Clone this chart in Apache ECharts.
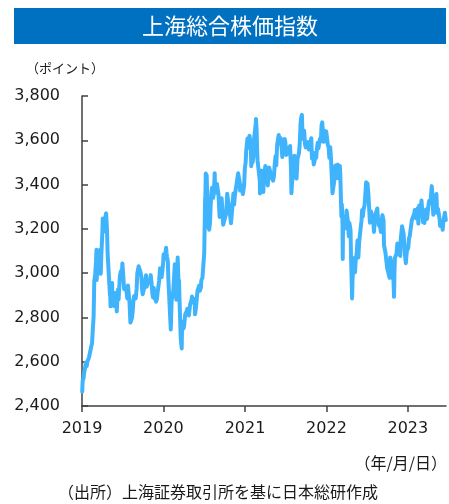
<!DOCTYPE html>
<html>
<head>
<meta charset="utf-8">
<script src="https://cdn.jsdelivr.net/npm/echarts@6/dist/echarts.min.js"></script>
<style>
  html, body { margin: 0; padding: 0; background: #fff; }
  #chart { width: 449px; height: 504px; }
</style>
</head>
<body>
<div id="chart"></div>
<script>
// Shanghai Composite Index, closing levels (points)
const dates2019 = ['2019-01-02','2019-01-04','2019-01-08','2019-01-11','2019-01-15','2019-01-18','2019-01-22','2019-01-25','2019-01-29','2019-02-01','2019-02-12','2019-02-15','2019-02-19','2019-02-22','2019-02-25','2019-02-27','2019-03-01','2019-03-05','2019-03-07','2019-03-08','2019-03-12','2019-03-15','2019-03-19','2019-03-22','2019-03-26','2019-03-29','2019-04-02','2019-04-04','2019-04-08','2019-04-10','2019-04-12','2019-04-16','2019-04-19','2019-04-23','2019-04-25','2019-04-26','2019-04-30','2019-05-06','2019-05-08','2019-05-09','2019-05-10','2019-05-14','2019-05-16','2019-05-17','2019-05-21','2019-05-24','2019-05-28','2019-05-31','2019-06-04','2019-06-06','2019-06-11','2019-06-14','2019-06-18','2019-06-20','2019-06-24','2019-06-28','2019-07-01','2019-07-04','2019-07-09','2019-07-12','2019-07-16','2019-07-19','2019-07-23','2019-07-26','2019-07-30','2019-08-02','2019-08-06','2019-08-09','2019-08-13','2019-08-16','2019-08-20','2019-08-23','2019-08-27','2019-08-30','2019-09-03','2019-09-06','2019-09-10','2019-09-12','2019-09-16','2019-09-20','2019-09-24','2019-09-27','2019-09-30','2019-10-10','2019-10-15','2019-10-18','2019-10-22','2019-10-25','2019-10-29','2019-11-01','2019-11-05','2019-11-08','2019-11-12','2019-11-15','2019-11-19','2019-11-22','2019-11-26','2019-11-29','2019-12-03','2019-12-06','2019-12-10','2019-12-13','2019-12-17','2019-12-20','2019-12-24','2019-12-27','2019-12-31'];
const values2019 = [2465,2514,2526,2554,2570,2596,2580,2601,2594,2618,2671,2682,2755,2804,2961,2953,2994,3054,3106,2969,3060,3021,3090,3104,2997,3090,3176,3247,3244,3241,3189,3253,3270,3198,3124,3086,3078,2906,2893,2850,2939,2883,2955,2882,2905,2852,2910,2898,2862,2827,2925,2881,2890,2988,3008,2979,3044,3005,2928,2930,2937,2924,2886,2944,2953,2868,2777,2774,2797,2823,2880,2897,2902,2886,2930,2999,3021,3031,3030,3006,2985,2932,2905,2947,2991,2938,2954,2954,2954,2958,2991,2964,2914,2891,2933,2885,2907,2871,2884,2912,2917,2967,3022,3005,2982,3005,3050];

const dates2020 = ['2020-01-02','2020-01-06','2020-01-08','2020-01-10','2020-01-13','2020-01-15','2020-01-17','2020-01-21','2020-01-23','2020-02-03','2020-02-05','2020-02-07','2020-02-11','2020-02-14','2020-02-18','2020-02-21','2020-02-24','2020-02-28','2020-03-03','2020-03-05','2020-03-09','2020-03-11','2020-03-13','2020-03-16','2020-03-19','2020-03-23','2020-03-25','2020-03-27','2020-03-31','2020-04-03','2020-04-08','2020-04-14','2020-04-17','2020-04-21','2020-04-24','2020-04-30','2020-05-06','2020-05-08','2020-05-13','2020-05-15','2020-05-20','2020-05-22','2020-05-26','2020-05-29','2020-06-02','2020-06-05','2020-06-09','2020-06-12','2020-06-17','2020-06-19','2020-06-24','2020-06-30','2020-07-02','2020-07-03','2020-07-06','2020-07-07','2020-07-09','2020-07-10','2020-07-13','2020-07-15','2020-07-16','2020-07-20','2020-07-22','2020-07-24','2020-07-28','2020-07-31','2020-08-04','2020-08-06','2020-08-11','2020-08-14','2020-08-18','2020-08-20','2020-08-24','2020-08-28','2020-09-01','2020-09-04','2020-09-09','2020-09-11','2020-09-15','2020-09-18','2020-09-22','2020-09-25','2020-09-28','2020-09-30','2020-10-09','2020-10-13','2020-10-16','2020-10-20','2020-10-23','2020-10-27','2020-10-30','2020-11-03','2020-11-06','2020-11-10','2020-11-13','2020-11-16','2020-11-20','2020-11-24','2020-11-27','2020-12-01','2020-12-04','2020-12-08','2020-12-10','2020-12-14','2020-12-18','2020-12-22','2020-12-24','2020-12-28','2020-12-31'];
const values2020 = [3085,3083,3066,3092,3115,3090,3075,3052,2977,2746,2818,2876,2901,2917,2984,3040,3031,2880,2993,3071,2943,2968,2887,2790,2702,2660,2781,2772,2750,2764,2815,2827,2839,2827,2809,2860,2878,2895,2898,2868,2883,2814,2846,2852,2921,2930,2943,2920,2935,2967,2979,2984,3090,3152,3332,3345,3450,3383,3443,3361,3210,3314,3333,3196,3228,3310,3371,3386,3340,3360,3451,3363,3386,3403,3410,3355,3254,3260,3295,3338,3275,3219,3217,3218,3272,3359,3336,3328,3278,3254,3225,3272,3312,3360,3310,3346,3377,3402,3408,3451,3444,3411,3373,3369,3395,3357,3364,3397,3473];

const dates2021 = ['2021-01-04','2021-01-06','2021-01-08','2021-01-12','2021-01-13','2021-01-15','2021-01-19','2021-01-21','2021-01-25','2021-01-27','2021-01-29','2021-02-02','2021-02-04','2021-02-08','2021-02-10','2021-02-18','2021-02-19','2021-02-22','2021-02-24','2021-02-26','2021-03-02','2021-03-04','2021-03-08','2021-03-09','2021-03-11','2021-03-15','2021-03-18','2021-03-22','2021-03-24','2021-03-26','2021-03-30','2021-04-02','2021-04-07','2021-04-09','2021-04-13','2021-04-15','2021-04-19','2021-04-22','2021-04-26','2021-04-30','2021-05-07','2021-05-11','2021-05-14','2021-05-18','2021-05-21','2021-05-25','2021-05-28','2021-06-01','2021-06-03','2021-06-07','2021-06-10','2021-06-15','2021-06-17','2021-06-21','2021-06-24','2021-06-28','2021-07-01','2021-07-05','2021-07-08','2021-07-12','2021-07-15','2021-07-19','2021-07-22','2021-07-26','2021-07-28','2021-07-30','2021-08-03','2021-08-06','2021-08-10','2021-08-13','2021-08-17','2021-08-20','2021-08-24','2021-08-27','2021-08-31','2021-09-03','2021-09-07','2021-09-10','2021-09-13','2021-09-16','2021-09-17','2021-09-23','2021-09-27','2021-09-30','2021-10-11','2021-10-14','2021-10-18','2021-10-20','2021-10-25','2021-10-28','2021-11-01','2021-11-05','2021-11-09','2021-11-12','2021-11-16','2021-11-19','2021-11-23','2021-11-26','2021-11-30','2021-12-03','2021-12-07','2021-12-10','2021-12-13','2021-12-16','2021-12-20','2021-12-23','2021-12-27','2021-12-31'];
const values2021 = [3503,3550,3570,3608,3598,3566,3584,3621,3624,3573,3483,3533,3501,3532,3603,3675,3696,3642,3564,3509,3509,3503,3421,3360,3436,3419,3463,3443,3367,3418,3457,3484,3479,3451,3396,3399,3477,3465,3441,3447,3418,3441,3490,3529,3487,3581,3600,3624,3584,3599,3610,3556,3525,3530,3566,3606,3588,3534,3525,3547,3565,3539,3574,3467,3361,3397,3447,3458,3530,3517,3446,3427,3514,3522,3544,3581,3676,3703,3715,3607,3613,3643,3582,3568,3592,3558,3568,3587,3609,3518,3545,3491,3507,3539,3521,3560,3589,3564,3564,3607,3595,3666,3681,3675,3593,3643,3615,3640];

const dates2022 = ['2022-01-04','2022-01-07','2022-01-11','2022-01-14','2022-01-18','2022-01-21','2022-01-25','2022-01-28','2022-02-07','2022-02-10','2022-02-14','2022-02-17','2022-02-21','2022-02-24','2022-02-28','2022-03-02','2022-03-04','2022-03-08','2022-03-09','2022-03-11','2022-03-14','2022-03-15','2022-03-16','2022-03-17','2022-03-21','2022-03-24','2022-03-29','2022-04-01','2022-04-07','2022-04-11','2022-04-14','2022-04-19','2022-04-21','2022-04-25','2022-04-26','2022-04-28','2022-05-05','2022-05-09','2022-05-12','2022-05-17','2022-05-20','2022-05-24','2022-05-27','2022-06-01','2022-06-07','2022-06-10','2022-06-13','2022-06-16','2022-06-21','2022-06-24','2022-06-28','2022-07-01','2022-07-04','2022-07-08','2022-07-12','2022-07-15','2022-07-19','2022-07-22','2022-07-26','2022-07-29','2022-08-02','2022-08-05','2022-08-09','2022-08-12','2022-08-17','2022-08-19','2022-08-24','2022-08-26','2022-08-30','2022-09-02','2022-09-07','2022-09-09','2022-09-14','2022-09-16','2022-09-20','2022-09-23','2022-09-27','2022-09-30','2022-10-11','2022-10-14','2022-10-18','2022-10-21','2022-10-24','2022-10-27','2022-10-31','2022-11-02','2022-11-04','2022-11-08','2022-11-11','2022-11-15','2022-11-18','2022-11-22','2022-11-25','2022-11-28','2022-11-30','2022-12-02','2022-12-06','2022-12-09','2022-12-13','2022-12-16','2022-12-20','2022-12-23','2022-12-27','2022-12-30'];
const values2022 = [3632,3580,3567,3521,3569,3523,3433,3361,3430,3486,3429,3468,3490,3429,3462,3484,3447,3293,3256,3310,3223,3064,3171,3215,3254,3250,3203,3283,3236,3167,3226,3195,3080,2928,2886,2975,3068,3004,3054,3094,3147,3071,3131,3182,3236,3285,3256,3285,3307,3350,3410,3388,3405,3356,3282,3228,3280,3270,3277,3253,3186,3227,3248,3277,3292,3258,3215,3236,3227,3186,3246,3262,3237,3126,3122,3089,3094,3024,2979,3071,3080,3038,2977,3017,2893,3003,3070,3064,3087,3134,3097,3088,3101,3078,3151,3156,3212,3206,3176,3167,3073,3045,3096,3089];

const dates2023 = ['2023-01-03','2023-01-06','2023-01-10','2023-01-13','2023-01-17','2023-01-19','2023-01-30','2023-02-01','2023-02-03','2023-02-07','2023-02-10','2023-02-14','2023-02-17','2023-02-21','2023-02-24','2023-02-28','2023-03-03','2023-03-06','2023-03-10','2023-03-14','2023-03-16','2023-03-20','2023-03-23','2023-03-28','2023-03-31','2023-04-04','2023-04-07','2023-04-11','2023-04-14','2023-04-18','2023-04-20','2023-04-25','2023-04-28','2023-05-05','2023-05-09','2023-05-12','2023-05-16','2023-05-19','2023-05-23','2023-05-26','2023-05-31','2023-06-02','2023-06-06','2023-06-09','2023-06-13','2023-06-16','2023-06-20','2023-06-21'];
const values2023 = [3116,3157,3169,3195,3225,3240,3269,3285,3263,3248,3260,3293,3224,3306,3267,3280,3328,3322,3230,3245,3226,3234,3287,3245,3273,3312,3327,3315,3338,3393,3367,3264,3323,3334,3357,3272,3290,3284,3246,3213,3205,3231,3196,3231,3234,3273,3240,3241];

// Axis ticks
const yearTicks = ['2019-01-01','2020-01-01','2021-01-01','2022-01-01','2023-01-01'];
const yMin = 2400, yMax = 3800, yStep = 200;
const xStart = '2019-01-01', xEnd = '2023-06-21';

const toTime = s => { const p = s.split('-').map(Number); return Date.UTC(p[0], p[1] - 1, p[2]); };

const allDates = [].concat(dates2019, dates2020, dates2021, dates2022, dates2023);
const allValues = [].concat(values2019, values2020, values2021, values2022, values2023);
const seriesData = allDates.map((d, i) => [toTime(d), allValues[i]]);
const tickTimes = yearTicks.map(toTime);

const axisColor = '#404040';
const textColor = '#1a1a1a';
const jpFont = '"Noto Sans CJK JP", "Noto Sans", sans-serif';
const numFont = '"DejaVu Sans", Verdana, sans-serif';

const chart = echarts.init(document.getElementById('chart'), null, { renderer: 'canvas' });
chart.setOption({
  animation: false,
  backgroundColor: '#ffffff',
  grid: { left: 82, right: 3, top: 96, bottom: 98, containLabel: false, outerBoundsMode: 'none' },
  xAxis: {
    type: 'value',
    min: toTime(xStart),
    max: toTime(xEnd),
    axisLine: { show: true, lineStyle: { color: axisColor, width: 1.5 } },
    axisTick: { show: true, inside: false, length: 6, lineStyle: { color: axisColor, width: 1.5 }, customValues: tickTimes },
    axisLabel: {
      customValues: tickTimes,
      margin: 15,
      color: textColor,
      fontSize: 16,
      fontFamily: numFont,
      formatter: v => String(new Date(v).getUTCFullYear())
    },
    splitLine: { show: false }
  },
  yAxis: {
    type: 'value',
    min: yMin,
    max: yMax,
    interval: yStep,
    axisLine: { show: true, lineStyle: { color: axisColor, width: 1.5 } },
    axisTick: { show: true, inside: true, length: 6, lineStyle: { color: axisColor, width: 1.5 } },
    axisLabel: {
      margin: 22,
      color: textColor,
      fontSize: 16,
      fontFamily: numFont,
      formatter: v => v.toLocaleString('en-US')
    },
    splitLine: { show: false }
  },
  series: [{
    type: 'line',
    data: seriesData,
    showSymbol: false,
    symbol: 'none',
    lineStyle: { color: '#3FB4FC', width: 4, join: 'round', cap: 'round' },
    z: 3
  }],
  graphic: [
    { type: 'rect', left: 14, top: 8, shape: { width: 432, height: 36 }, style: { fill: '#0070C0' } },
    { type: 'text', x: 230, y: 26, style: { text: '上海総合株価指数', fill: '#ffffff', font: '22px ' + jpFont, textAlign: 'center', textVerticalAlign: 'middle' } },
    { type: 'text', x: 26, y: 68, style: { text: '（ポイント）', fill: textColor, font: '13px ' + jpFont, textAlign: 'left', textVerticalAlign: 'middle' } },
    { type: 'text', x: 447, y: 463, style: { text: '（年/月/日）', fill: textColor, font: '16px ' + jpFont, textAlign: 'right', textVerticalAlign: 'middle' } },
    { type: 'text', x: 58, y: 492, style: { text: '（出所）上海証券取引所を基に日本総研作成', fill: textColor, font: '16px ' + jpFont, textAlign: 'left', textVerticalAlign: 'middle' } }
  ]
});
</script>
</body>
</html>
